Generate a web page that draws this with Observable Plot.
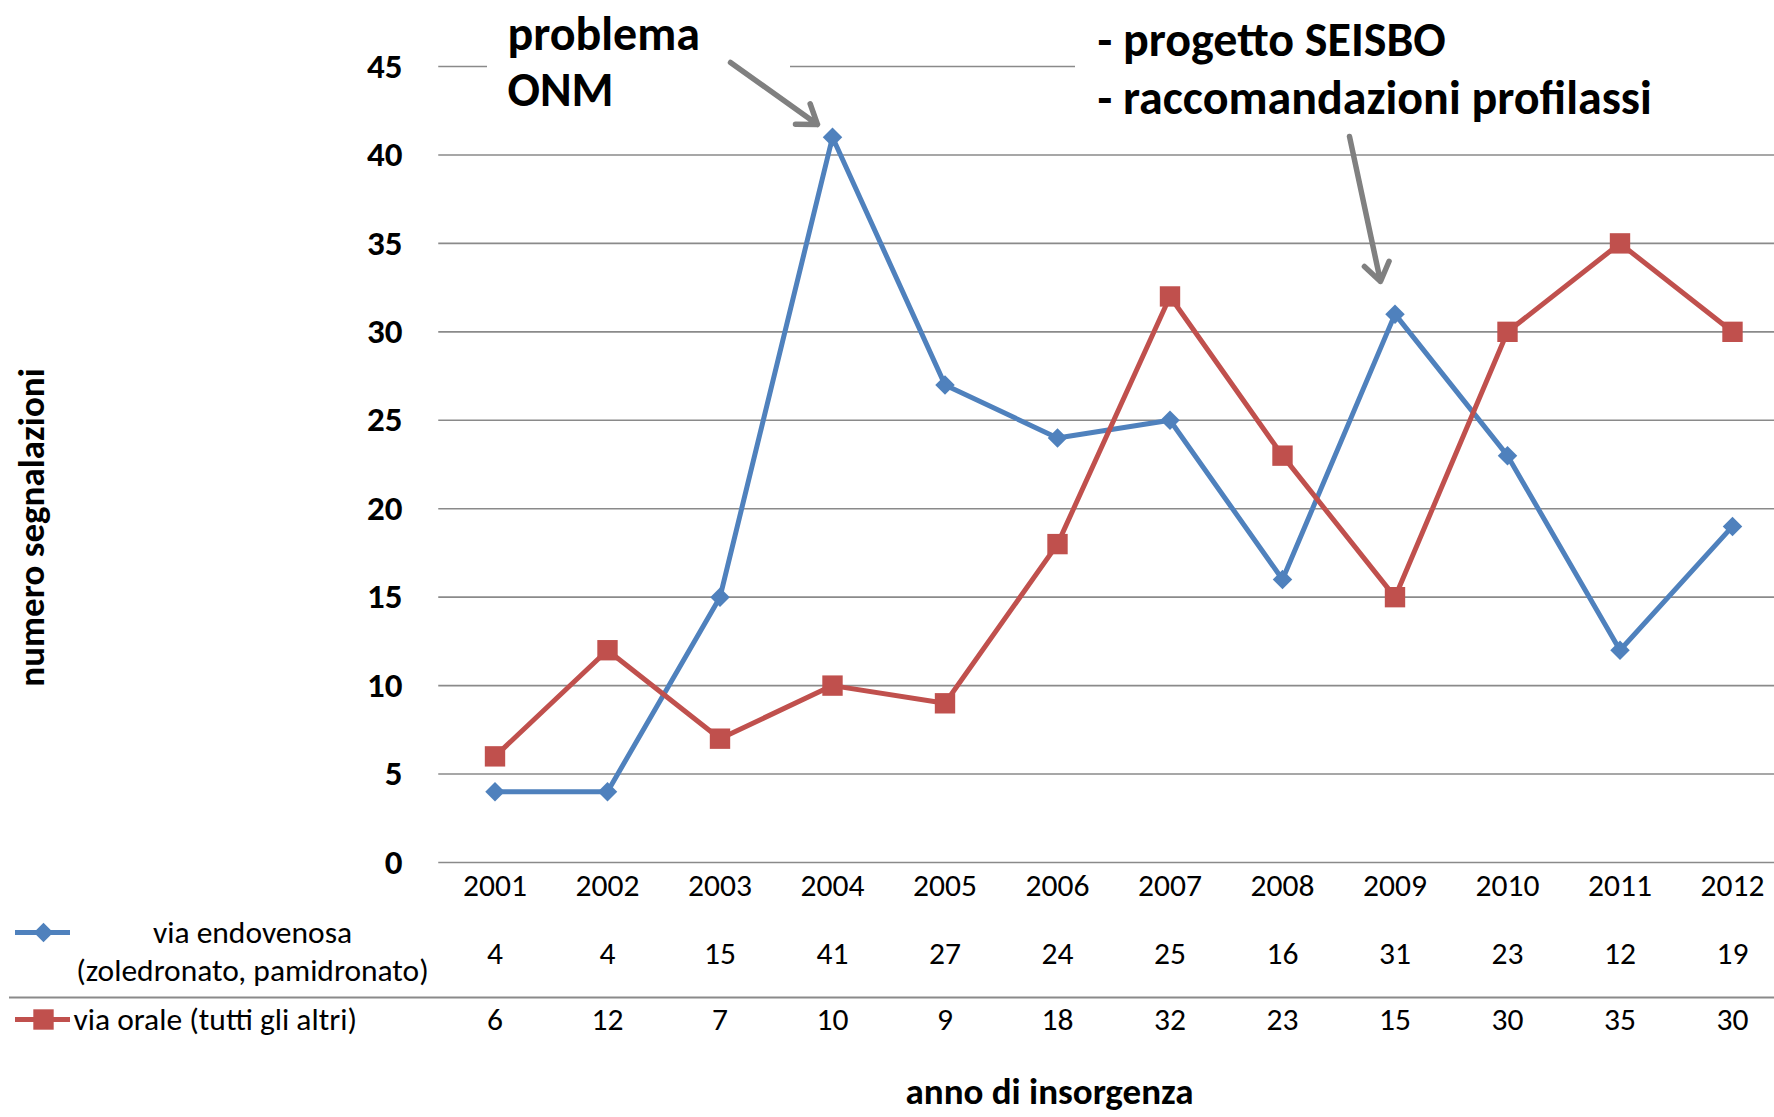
<!DOCTYPE html>
<html><head><meta charset="utf-8">
<script src="https://cdn.jsdelivr.net/npm/d3@7"></script>
<script src="https://cdn.jsdelivr.net/npm/@observablehq/plot@0.6"></script>
<style>body{margin:0;background:#fff}</style>
</head><body><div id="chart"></div>
<script>
// ---- data ----
const years = [2001, 2002, 2003, 2004, 2005, 2006, 2007, 2008, 2009, 2010, 2011, 2012];
const endovenosa = [4, 4, 15, 41, 27, 24, 25, 16, 31, 23, 12, 19];
const orale = [6, 12, 7, 10, 9, 18, 32, 23, 15, 30, 35, 30];
const yTicks = [0, 5, 10, 15, 20, 25, 30, 35, 40, 45];
const legendEndo = ["via endovenosa", "(zoledronato, pamidronato)"];
const legendOrale = "via orale (tutti gli altri)";
const note1 = ["problema", "ONM"];
const note2 = ["- progetto SEISBO", "- raccomandazioni profilassi"];
const yTitle = "numero segnalazioni";
const xTitle = "anno di insorgenza";

// ---- layout ----
const W = 1774, H = 1117;
const X0 = 438.25, STEP = 112.5;          // left edge of first band, band width (px)
const YB = 862, YT = 66;                  // pixel of 0 and of 45
const xDomain = [2000.5, 2012.5];
const xRange = [X0, X0 + STEP * 12];
const UNIT = (YB - YT) / 45;
const px2x = p => xDomain[0] + (p - X0) / STEP;
const py2y = p => (YB - p) / UNIT;

const BLUE = "#4F81BD", RED = "#C0504D", GRID = "#8a8a8a", ARROW = "#808080";
const FONT = "Calibri, Carlito, Lato, sans-serif";
const FS = 31.5;       // regular text size
const FS_AX = 37;      // axis titles
const FS_TICK = 35;    // y tick labels
const FS_NOTE = 48;    // annotations
const DIAMOND_R = 8.8, SQUARE_R = 11.5;

const endoData = years.map((year, i) => ({year, value: endovenosa[i]}));
const oraleData = years.map((year, i) => ({year, value: orale[i]}));

const chart = Plot.plot({
  width: W, height: H,
  marginLeft: X0, marginRight: W - xRange[1], marginTop: YT, marginBottom: H - YB,
  style: {fontFamily: FONT, color: "#000", background: "#fff", overflow: "hidden"},
  x: {type: "linear", domain: xDomain, range: xRange, axis: null},
  y: {domain: [0, 45], range: [YB, YT], axis: null},
  marks: [
    // gridlines
    Plot.ruleY(yTicks, {x1: xDomain[0], x2: xDomain[1], stroke: GRID, strokeWidth: 1.6}),
    // white boxes behind annotation text
    Plot.rect([0], {x1: px2x(487), x2: px2x(790), y1: py2y(110), y2: py2y(8), fill: "white"}),
    Plot.rect([0], {x1: px2x(1075), x2: px2x(1800), y1: py2y(118), y2: py2y(8), fill: "white"}),
    // y tick labels
    Plot.text(yTicks, {x: px2x(402), y: d => d, text: d => String(d), textAnchor: "end", lineAnchor: "middle", fontSize: FS_TICK, fontWeight: "bold"}),
    // series lines
    Plot.line(endoData, {x: "year", y: "value", stroke: BLUE, strokeWidth: 5}),
    Plot.line(oraleData, {x: "year", y: "value", stroke: RED, strokeWidth: 5}),
    Plot.dot(endoData, {x: "year", y: "value", symbol: "diamond2", r: DIAMOND_R, fill: BLUE, stroke: "none"}),
    Plot.dot(oraleData, {x: "year", y: "value", symbol: "square", r: SQUARE_R, fill: RED, stroke: "none"}),
    // data table
    Plot.text(years, {x: d => d, y: py2y(885), text: d => String(d), lineAnchor: "middle", fontSize: FS}),
    Plot.text(endoData, {x: "year", y: py2y(953), text: d => String(d.value), lineAnchor: "middle", fontSize: FS}),
    Plot.text(oraleData, {x: "year", y: py2y(1019), text: d => String(d.value), lineAnchor: "middle", fontSize: FS}),
    Plot.ruleY([py2y(997)], {x1: px2x(9), x2: xDomain[1], stroke: GRID, strokeWidth: 1.8}),
    // legend keys
    Plot.ruleY([py2y(932)], {x1: px2x(15), x2: px2x(70), stroke: BLUE, strokeWidth: 5}),
    Plot.dot([0], {x: px2x(43), y: py2y(932), symbol: "diamond2", r: DIAMOND_R, fill: BLUE, stroke: "none"}),
    Plot.ruleY([py2y(1019)], {x1: px2x(15), x2: px2x(70), stroke: RED, strokeWidth: 5}),
    Plot.dot([0], {x: px2x(43), y: py2y(1019), symbol: "square", r: SQUARE_R, fill: RED, stroke: "none"}),
    Plot.text([legendEndo[0]], {x: px2x(252), y: py2y(932), text: d => d, lineAnchor: "middle", fontSize: FS}),
    Plot.text([legendEndo[1]], {x: px2x(252), y: py2y(970), text: d => d, lineAnchor: "middle", fontSize: FS}),
    Plot.text([legendOrale], {x: px2x(73), y: py2y(1019), text: d => d, textAnchor: "start", lineAnchor: "middle", fontSize: FS}),
    // axis titles
    Plot.text([yTitle], {x: px2x(32), y: py2y(527), text: d => d, rotate: -90, lineAnchor: "middle", fontSize: FS_AX, fontWeight: "bold"}),
    Plot.text([xTitle], {x: px2x(1049), y: py2y(1092), text: d => d, lineAnchor: "middle", fontSize: FS_AX, fontWeight: "bold"}),
    // annotations
    Plot.text([note1[0]], {x: px2x(507), y: py2y(34), text: d => d, textAnchor: "start", lineAnchor: "middle", fontSize: FS_NOTE, fontWeight: "bold"}),
    Plot.text([note1[1]], {x: px2x(507), y: py2y(90), text: d => d, textAnchor: "start", lineAnchor: "middle", fontSize: FS_NOTE, fontWeight: "bold"}),
    Plot.text([note2[0]], {x: px2x(1097), y: py2y(40), text: d => d, textAnchor: "start", lineAnchor: "middle", fontSize: FS_NOTE, fontWeight: "bold"}),
    Plot.text([note2[1]], {x: px2x(1097), y: py2y(98), text: d => d, textAnchor: "start", lineAnchor: "middle", fontSize: FS_NOTE, fontWeight: "bold"}),
    Plot.arrow([0], {x1: px2x(730), y1: py2y(62), x2: px2x(817), y2: py2y(124), stroke: ARROW, strokeWidth: 5.5, headLength: 6, headAngle: 70}),
    Plot.arrow([0], {x1: px2x(1349), y1: py2y(136), x2: px2x(1380), y2: py2y(281), stroke: ARROW, strokeWidth: 5.5, headLength: 6, headAngle: 70})
  ]
});
document.getElementById("chart").appendChild(chart);
</script>
</body></html>
